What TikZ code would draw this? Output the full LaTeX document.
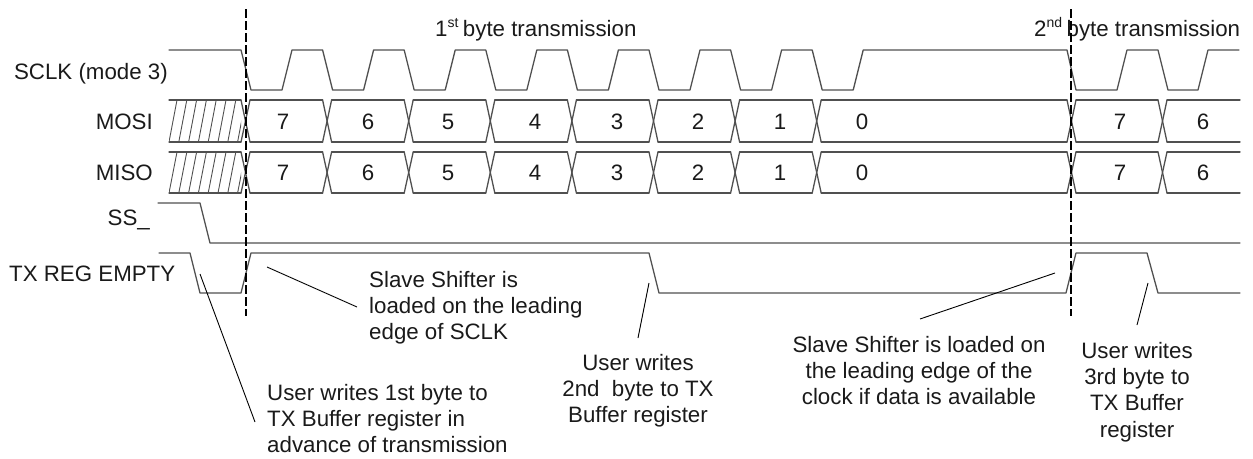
\documentclass[tikz,border=0pt]{standalone}
\usepackage{fontspec}
\setmainfont{Liberation Sans}
\definecolor{sigcol}{HTML}{505050}
\definecolor{txtcol}{HTML}{1A1A1A}
\begin{document}
\begin{tikzpicture}[x=1pt,y=-1pt,
  sig/.style={draw=sigcol,line width=1.3pt,line join=round,line cap=round},
  lbl/.style={font=\fontsize{22.3}{26.3}\selectfont,inner sep=0pt,text=txtcol},
  note/.style={lbl},
  lead/.style={draw=black,line width=0.9pt},
  marker/.style={draw=black,line width=1.2pt,dash pattern=on 9pt off 3pt},
  hatch/.style={draw=sigcol,line width=0.9pt}]
\useasboundingbox (0,0) rectangle (1253,458);

% signal names
\node[lbl,anchor=base east] (sclk) at (168,79) {SCLK (mode 3)};
\node[lbl,anchor=base east] (mosi) at (153,129.5) {MOSI};
\node[lbl,anchor=base east] (miso) at (153,180) {MISO};
\node[lbl,anchor=base east] (ss) at (150,225) {SS\_};
\node[lbl,anchor=base west] (txe) at (9,281) {TX REG EMPTY};

% titles
\node[lbl,anchor=base west] (t1) at (435,36) {1\raisebox{0.4em}{\fontsize{14}{14}\selectfont st}\hspace{0.2em}byte transmission};
\node[lbl,anchor=base west] (t2) at (1034,36) {2\raisebox{0.4em}{\fontsize{14}{14}\selectfont nd}\hspace{0.2em}byte transmission};

% SCLK
\draw[sig] (169,50) foreach \i in {0,...,7}{ -- ({241+81.6*\i},50) -- ({251+81.6*\i},90) -- ({282+81.6*\i},90) -- ({292+81.6*\i},50)}
  -- (1067,50) -- (1076,90) -- (1117,90) -- (1127,50) -- (1158,50) -- (1168,90) -- (1198,90) -- (1208,50) -- (1239,50);

% buses
\foreach \yt/\yb in {100/142,152/193}{
  \draw[sig] (169,\yt) -- (241,\yt);
  \draw[sig] (169,\yb) -- (241,\yb);
  \begin{scope}
    \clip (169,\yt) rectangle (241,\yb);
    \foreach \k in {0,...,7} \draw[hatch] ({169+9.8*\k},\yb) -- ({177+9.8*\k},\yt);
  \end{scope}
  \foreach \t/\n in {241/322.6,322.6/404.2,404.2/485.8,485.8/567.4,567.4/649,649/730.6,730.6/812.2,812.2/1067,1067/1158,1158/1240}{
    \draw[sig] (\t,\yt) -- ({\t+9},\yb);
    \draw[sig] (\t,\yb) -- ({\t+9},\yt);
    \draw[sig] ({\t+9},\yt) -- (\n,\yt);
    \draw[sig] ({\t+9},\yb) -- (\n,\yb);
  }
}
\foreach \x/\v/\k in {283/7/a,368/6/b,448/5/c,535/4/d,617/3/e,698/2/f,780/1/g,862/0/h,1120/7/i,1203/6/j}{
  \node[lbl,anchor=base] (mo\k) at (\x,129.5) {\v};
  \node[lbl,anchor=base] (mi\k) at (\x,180) {\v};
}

% SS_
\draw[sig] (158,203) -- (200,203) -- (210,243) -- (1240,243);
% TX REG EMPTY
\draw[sig] (159,253) -- (190,253) -- (200,293) -- (241,293) -- (251,253) -- (649,253) -- (659,293)
  -- (1066,293) -- (1076,253) -- (1147,253) -- (1158,293) -- (1240,293);

% byte boundary markers
\coordinate (m1top) at (246,9); \coordinate (m1bot) at (246,316);
\coordinate (m2top) at (1071,9); \coordinate (m2bot) at (1071,316);
\draw[marker] (m1top) -- (m1bot);
\draw[marker] (m2top) -- (m2bot);

% notes
\node[note,anchor=north west,align=left] (n1) at (369,271) {Slave Shifter is\\loaded on the leading\\edge of SCLK};
\node[note,anchor=north west,align=left] (n2) at (267,384) {User writes 1st byte to\\TX Buffer register in\\advance of transmission};
\node[note,anchor=north,align=center] (n3) at (638,354) {User writes\\2nd\ \ byte to TX\\Buffer register};
\node[note,anchor=north,align=center] (n4) at (919,336) {Slave Shifter is loaded on\\the leading edge of the\\clock if data is available};
\node[note,anchor=north,align=center] (n5) at (1137,342) {User writes\\3rd byte to\\TX Buffer\\register};

% leaders
\coordinate (l1a) at (200,274); \coordinate (l1b) at (255,422);
\coordinate (l2a) at (267,267); \coordinate (l2b) at (357,307);
\coordinate (l3a) at (649,283); \coordinate (l3b) at (638,338);
\coordinate (l4a) at (1055,273); \coordinate (l4b) at (920,319);
\coordinate (l5a) at (1148,283); \coordinate (l5b) at (1137,325);
\draw[lead] (l1a) -- (l1b);
\draw[lead] (l2a) -- (l2b);
\draw[lead] (l3a) -- (l3b);
\draw[lead] (l4a) -- (l4b);
\draw[lead] (l5a) -- (l5b);
\end{tikzpicture}
\end{document}
